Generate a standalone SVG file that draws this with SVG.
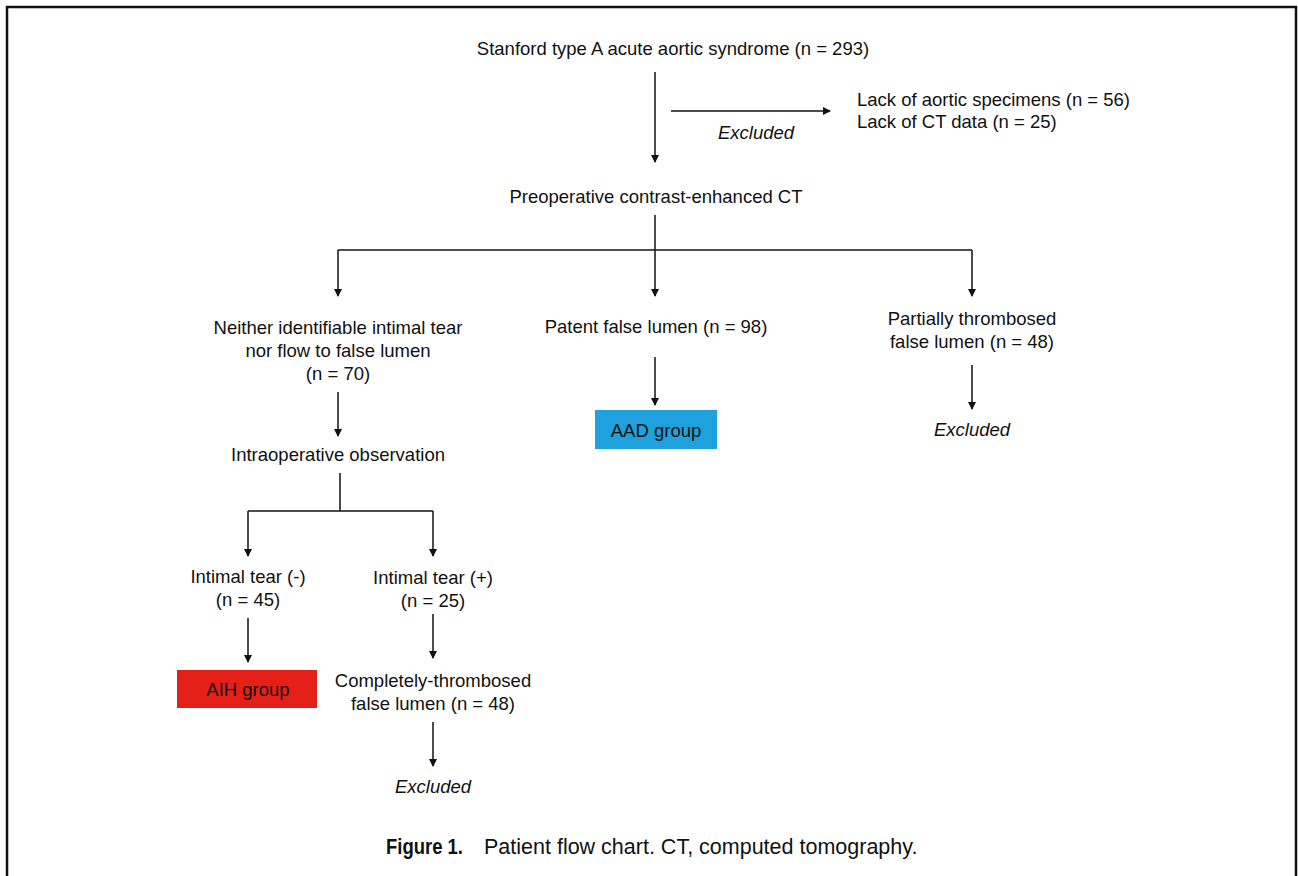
<svg xmlns="http://www.w3.org/2000/svg" width="1298" height="876" viewBox="0 0 1298 876">
<style>
text{font-family:"Liberation Sans",Arial,sans-serif;font-size:18.5px;fill:#111;}
.c{text-anchor:middle;}
.i{font-style:italic;}
.ln{stroke:#111;stroke-width:1.5;fill:none;}
.cap{font-size:21.5px;}
</style>
<defs>
<marker id="ah" markerWidth="8" markerHeight="9" refX="7" refY="4.5" orient="auto" markerUnits="userSpaceOnUse">
<path d="M0,0.5 L8,4.5 L0,8.5 Z" fill="#111"/>
</marker>
</defs>
<rect width="1298" height="876" fill="#fff"/>
<path d="M7,876 V7 H1296 V876" fill="none" stroke="#111" stroke-width="2.5"/>
<g id="connectors">
<line class="ln" x1="655" y1="72" x2="655" y2="162" marker-end="url(#ah)"/>
<line class="ln" x1="671" y1="111" x2="830" y2="111" marker-end="url(#ah)"/>
<line class="ln" x1="655" y1="215" x2="655" y2="296" marker-end="url(#ah)"/>
<line class="ln" x1="338" y1="250" x2="972" y2="250"/>
<line class="ln" x1="338" y1="250" x2="338" y2="296" marker-end="url(#ah)"/>
<line class="ln" x1="972" y1="250" x2="972" y2="296" marker-end="url(#ah)"/>
<line class="ln" x1="338" y1="392" x2="338" y2="436" marker-end="url(#ah)"/>
<line class="ln" x1="655" y1="357" x2="655" y2="405" marker-end="url(#ah)"/>
<line class="ln" x1="972" y1="365" x2="972" y2="409" marker-end="url(#ah)"/>
<line class="ln" x1="340" y1="473" x2="340" y2="511"/>
<line class="ln" x1="248" y1="511" x2="433" y2="511"/>
<line class="ln" x1="248" y1="511" x2="248" y2="556" marker-end="url(#ah)"/>
<line class="ln" x1="433" y1="511" x2="433" y2="556" marker-end="url(#ah)"/>
<line class="ln" x1="248" y1="618" x2="248" y2="662" marker-end="url(#ah)"/>
<line class="ln" x1="433" y1="614" x2="433" y2="658" marker-end="url(#ah)"/>
<line class="ln" x1="433" y1="722" x2="433" y2="766" marker-end="url(#ah)"/>
</g>
<g id="n-start"><text class="c" x="673" y="55">Stanford type A acute aortic syndrome (n = 293)</text></g>
<g id="n-excl1label"><text class="c i" x="756" y="139">Excluded</text></g>
<g id="n-excl1"><text x="857" y="106">Lack of aortic specimens (n = 56)</text><text x="857" y="128">Lack of CT data (n = 25)</text></g>
<g id="n-ct"><text class="c" x="656" y="203">Preoperative contrast-enhanced CT</text></g>
<g id="n-neither"><text class="c" x="338" y="334">Neither identifiable intimal tear</text><text class="c" x="338" y="357">nor flow to false lumen</text><text class="c" x="338" y="380">(n = 70)</text></g>
<g id="n-patent"><text class="c" x="656" y="333">Patent false lumen (n = 98)</text></g>
<g id="n-partial"><text class="c" x="972" y="325">Partially thrombosed</text><text class="c" x="972" y="348">false lumen (n = 48)</text></g>
<g id="n-aad"><rect x="595" y="410" width="122" height="39" fill="#1ea1dc"/><text class="c" x="656" y="437">AAD group</text></g>
<g id="n-excl2"><text class="c i" x="972" y="436">Excluded</text></g>
<g id="n-intraop"><text class="c" x="338" y="461">Intraoperative observation</text></g>
<g id="n-tearneg"><text class="c" x="248" y="583">Intimal tear (-)</text><text class="c" x="248" y="606">(n = 45)</text></g>
<g id="n-tearpos"><text class="c" x="433" y="584">Intimal tear (+)</text><text class="c" x="433" y="607">(n = 25)</text></g>
<g id="n-aih"><rect x="177" y="670" width="140" height="38" fill="#e52019"/><text class="c" x="248" y="696">AIH group</text></g>
<g id="n-complete"><text class="c" x="433" y="687">Completely-thrombosed</text><text class="c" x="433" y="710">false lumen (n = 48)</text></g>
<g id="n-excl3"><text class="c i" x="433" y="793">Excluded</text></g>
<g id="caption"><text class="cap" x="386" y="854" font-weight="bold" textLength="77" lengthAdjust="spacingAndGlyphs">Figure 1.</text><text class="cap" x="484" y="854">Patient flow chart. CT, computed tomography.</text></g>
</svg>
